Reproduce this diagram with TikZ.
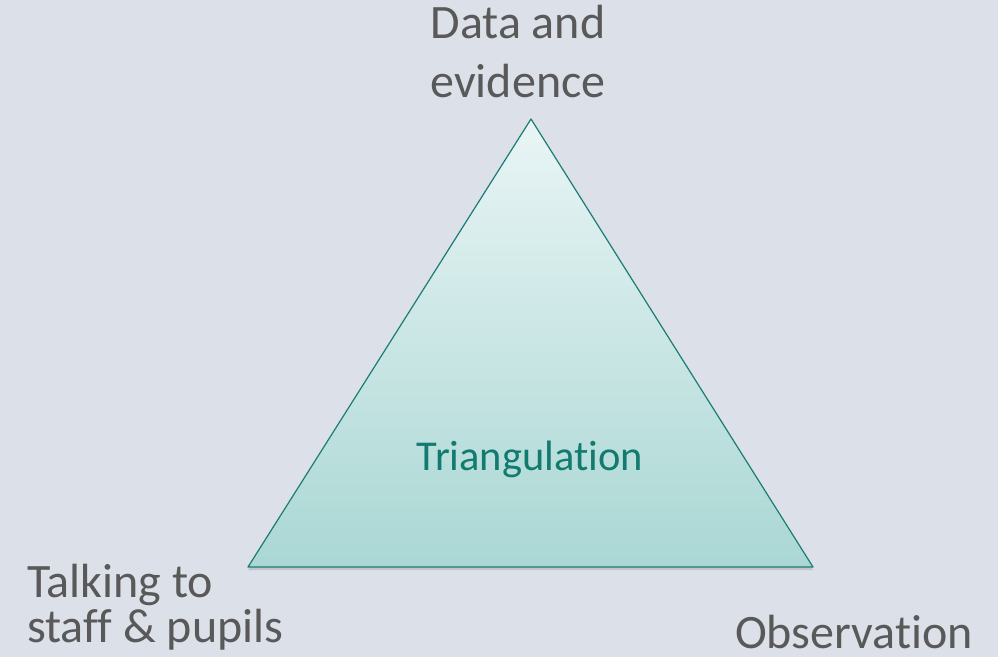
\documentclass[tikz,border=0pt]{standalone}
\usepackage{fontspec}
\setmainfont{Carlito}[Ligatures={NoCommon}]
\usepackage{tikz}
\usetikzlibrary{positioning}

\definecolor{slidebg}{HTML}{DCE0E9}
\definecolor{labelgray}{HTML}{595959}
\definecolor{tealline}{HTML}{1A7C74}
\definecolor{tealtext}{HTML}{137A70}
\definecolor{tealtop}{HTML}{E9F5F5}
\definecolor{tealbot}{HTML}{AAD7D4}

\begin{document}
\begin{tikzpicture}[x=1pt, y=1pt]
\tikzstyle{cornerlabel} = [text=labelgray, inner sep=0pt, font=\fontsize{48}{59}\selectfont]
\tikzstyle{centrelabel} = [text=tealtext, inner sep=0pt, font=\fontsize{42.5}{50}\selectfont]

% background
\fill [slidebg] (0,0) rectangle (998,657);
\useasboundingbox (0,0) rectangle (998,657);

% corners of the triangle
\coordinate (top) at (531,538);
\coordinate (left) at (248,90);
\coordinate (right) at (813,90);

% soft shadow and the triangle
\fill [black, opacity=0.12] ([yshift=-3]left) -- ([yshift=-3]right) -- ([yshift=-3]top) -- cycle;
\shade [top color=tealtop, bottom color=tealbot] (top) -- (left) -- (right) -- cycle;
\draw [tealline, line width=1.2pt, line join=round] (top) -- (left) -- (right) -- cycle;

\node (tri) [centrelabel, anchor=base] at (530,187) {Triangulation};

% base anchor sits on the last line
\node (data) [cornerlabel, align=center, anchor=base] at (518,559) {Data and\\evidence};
\node (talk) [cornerlabel, align=left, anchor=base west, font=\fontsize{48}{45}\selectfont] at (27,15) {Talking to\\staff \& pupils};
\node (obs) [cornerlabel, anchor=base west] at (735,9) {Observation};

\end{tikzpicture}
\end{document}
